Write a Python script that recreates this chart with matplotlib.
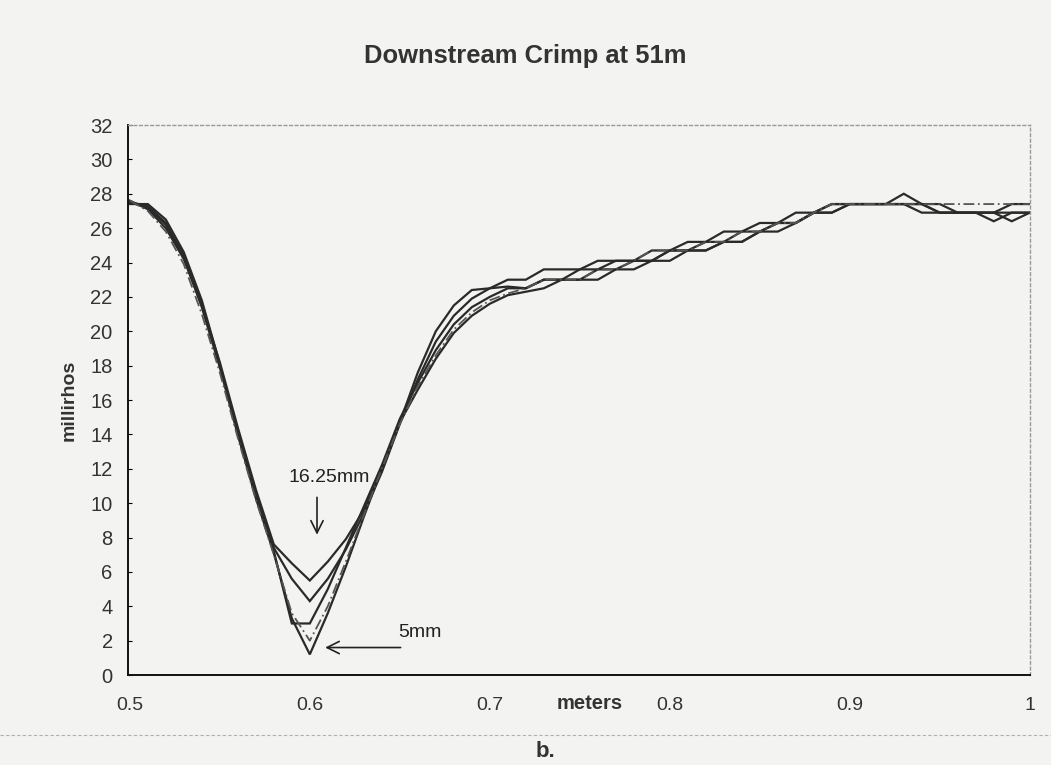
import numpy as np
import matplotlib
matplotlib.use("Agg")
import matplotlib.pyplot as plt

plt.rcParams['font.family'] = ['Liberation Sans', 'DejaVu Sans']

# posicoes ao longo do cabo (m)
meters = np.round(np.linspace(0.5, 1.0, 51), 2)

# leituras (millirhos) para cada crimp, do maior (16.25mm) ao menor (5mm)
crimp_a = [27.6, 27.1, 26.0, 24.2, 21.5, 18.2, 14.4, 10.8, 7.6, 6.5, 5.5, 6.6, 7.9, 9.6, 11.9, 14.7,
           17.6, 20.0, 21.5, 22.4, 22.5, 23.0, 23.0, 23.6, 23.6, 23.6, 24.1, 24.1, 24.1, 24.7, 24.7,
           25.2, 25.2, 25.8, 25.8, 26.3, 26.3, 26.9, 26.9, 27.4, 27.4, 27.4, 27.4, 28.0, 27.4, 26.9,
           26.9, 26.9, 26.9, 26.9, 26.9]
crimp_b = [27.5, 27.3, 26.3, 24.4, 21.6, 18.0, 14.2, 10.6, 7.4, 5.6, 4.3, 5.6, 7.3, 9.4, 11.8, 14.6,
           17.2, 19.4, 20.9, 21.9, 22.5, 22.6, 22.5, 23.0, 23.0, 23.6, 23.6, 24.1, 24.1, 24.1, 24.7,
           24.7, 25.2, 25.2, 25.8, 25.8, 26.3, 26.3, 26.9, 27.4, 27.4, 27.4, 27.4, 27.4, 27.4, 26.9,
           26.9, 26.9, 26.4, 26.9, 26.9]
crimp_c = [27.4, 27.4, 26.5, 24.6, 21.8, 18.1, 14.0, 10.4, 7.2, 3.0, 3.0, 5.0, 7.4, 9.8, 12.2, 14.9,
           17.0, 18.9, 20.4, 21.4, 22.0, 22.5, 22.5, 23.0, 23.0, 23.0, 23.6, 23.6, 24.1, 24.1, 24.7,
           24.7, 24.7, 25.2, 25.2, 25.8, 25.8, 26.3, 26.9, 26.9, 27.4, 27.4, 27.4, 27.4, 27.4, 27.4,
           26.9, 26.9, 26.9, 26.4, 26.9]
crimp_d = [27.6, 27.0, 25.8, 23.9, 21.0, 17.6, 13.8, 10.2, 7.0, 3.6, 2.0, 4.0, 6.6, 9.3, 12.0, 14.6,
           16.8, 18.6, 20.1, 21.1, 21.8, 22.2, 22.5, 23.0, 23.0, 23.0, 23.6, 23.6, 24.1, 24.7, 24.7,
           24.7, 25.2, 25.2, 25.8, 25.8, 26.3, 26.3, 26.9, 27.4, 27.4, 27.4, 27.4, 27.4, 27.4, 27.4,
           27.4, 27.4, 27.4, 27.4, 27.4]
crimp_e = [27.5, 27.2, 26.2, 24.3, 21.4, 17.9, 14.0, 10.3, 7.1, 3.3, 1.2, 3.6, 6.3, 9.2, 12.0, 14.7,
           16.6, 18.4, 19.9, 20.9, 21.6, 22.1, 22.3, 22.5, 23.0, 23.0, 23.0, 23.6, 23.6, 24.1, 24.1,
           24.7, 24.7, 25.2, 25.2, 25.8, 26.3, 26.3, 26.9, 26.9, 27.4, 27.4, 27.4, 27.4, 26.9, 26.9,
           26.9, 26.9, 26.9, 27.4, 27.4]

x_ticks = [0.5, 0.6, 0.7, 0.8, 0.9, 1.0]
x_tick_labels = ["0.5", "0.6", "0.7", "0.8", "0.9", "1"]
y_ticks = list(range(0, 33, 2))

bg = "#f3f3f1"
ink = "#2a2a2a"

fig = plt.figure(figsize=(10.51, 7.65), dpi=100, facecolor=bg)
ax = fig.add_axes([0.1218, 0.1176, 0.858, 0.719], facecolor=bg)

for serie in [crimp_a, crimp_b, crimp_c, crimp_e]:
    ax.plot(meters, serie, color=ink, lw=1.6, solid_joinstyle='miter')
ax.plot(meters, crimp_d, color="#555555", lw=1.3, ls=(0, (6, 2, 1, 2)))

ax.set_xlim(0.499, 1.0)
ax.set_ylim(0, 32)

ax.set_xticks(x_ticks)
ax.set_xticklabels(x_tick_labels)
ax.set_yticks(y_ticks)
ax.tick_params(axis='x', length=0, pad=16, labelsize=14, labelcolor="#333333")
ax.tick_params(axis='y', direction='in', length=3, width=0.8, pad=11, labelsize=14.5, labelcolor="#333333")

# bordas: esquerda e inferior solidas, topo e direita pontilhadas
for lado in ['left', 'bottom']:
    ax.spines[lado].set_color("#111111")
    ax.spines[lado].set_linewidth(1.4)
for lado in ['top', 'right']:
    ax.spines[lado].set_color("#9a9a9a")
    ax.spines[lado].set_linewidth(1.0)
    ax.spines[lado].set_linestyle((0, (2, 2)))

ax.set_ylabel("millirhos", fontsize=14, fontweight='bold', color="#333333", labelpad=9)
ax.text(0.7555, -0.052, "meters", transform=ax.get_xaxis_transform(), ha='center', va='center',
        fontsize=14.5, fontweight='bold', color="#333333")

fig.text(0.5, 0.927, "Downstream Crimp at 51m", ha='center', va='center', fontsize=18.4,
         fontweight='bold', color="#333333")
fig.text(0.519, 0.017, "b.", ha='center', va='center', fontsize=16, fontweight='bold', color="#333333")

# linha da borda da pagina digitalizada
fig.add_artist(plt.Line2D([0.0, 1.0], [0.039, 0.039], color="#b0b0b0", lw=0.8, ls=(0, (3, 2))))

# anotacoes
ax.text(0.611, 11.5, "16.25mm", ha='center', va='center', fontsize=14, color="#222222")
ax.annotate("", xy=(0.604, 8.0), xytext=(0.604, 10.5),
            arrowprops=dict(arrowstyle='->', color="#222222", lw=1.2, mutation_scale=22))
ax.text(0.661, 2.5, "5mm", ha='center', va='center', fontsize=14, color="#222222")
ax.annotate("", xy=(0.607, 1.6), xytext=(0.652, 1.6),
            arrowprops=dict(arrowstyle='->', color="#222222", lw=1.2, mutation_scale=22))

fig.savefig("out.png", dpi=100, facecolor=bg)
